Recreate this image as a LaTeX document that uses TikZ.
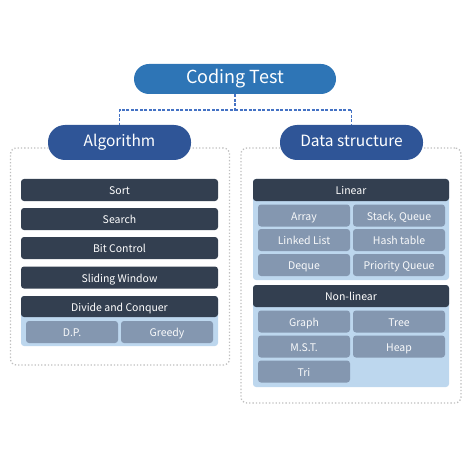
\documentclass[tikz,border=0pt]{standalone}
\usepackage{fontspec}
\setmainfont{Noto Sans CJK KR}
\usetikzlibrary{positioning}
\definecolor{topblue}{HTML}{2E75B6}
\definecolor{pillblue}{HTML}{2F5597}
\definecolor{darkitem}{HTML}{333F50}
\definecolor{lightbox}{HTML}{BDD7EE}
\definecolor{subitem}{HTML}{8497B0}
\definecolor{dotgrey}{HTML}{BFBFBF}
\definecolor{dashblue}{HTML}{4472C4}
\tikzset{
  every node/.style={text height=0.9em, text depth=0pt},
  pill/.style={fill=#1, text=white, rounded corners=17pt, inner sep=0pt,
    minimum height=35pt, minimum width=143pt, font=\fontsize{15.5}{18}\selectfont},
  darkbox/.style={fill=darkitem, text=white, rounded corners=3pt, inner sep=0pt,
    minimum height=22pt, font=\fontsize{10.5}{12}\selectfont},
  subbox/.style={fill=subitem, text=white!95!subitem, rounded corners=3pt, inner sep=0pt,
    minimum height=22pt, minimum width=92pt, font=\fontsize{10.5}{12}\selectfont},
  container/.style={fill=lightbox, rounded corners=3pt, inner sep=0pt},
  outerbox/.style={draw=dotgrey, line width=1.3pt, dotted, rounded corners=6pt, inner sep=0pt},
  link/.style={draw=dashblue, line width=1.2pt, dash pattern=on 3pt off 1.5pt},
}
\begin{document}
\begin{tikzpicture}[x=1pt,y=-1pt]
\useasboundingbox (0,0) rectangle (470,470);
% outer dotted frames
\node[outerbox, minimum width=219pt, minimum height=217pt] (algframe) at (120,256.5) {};
\node[outerbox, minimum width=220pt, minimum height=255pt] (dsframe) at (351,275.5) {};
% top and category pills
\node[pill=topblue, minimum width=202pt, minimum height=30pt, rounded corners=15pt,
  font=\fontsize{18}{21}\selectfont] (ct) at (235,79) {Coding Test};
\node[pill=pillblue] (alg) at (119.5,142.5) {Algorithm};
\node[pill=pillblue] (ds) at (351.5,142.5) {Data structure};
\coordinate (split) at (235,110);
\draw[link] (ct.south) -- (split) -| (alg.north);
\draw[link] (split) -| (ds.north);
% algorithm items
\node[darkbox, minimum width=197pt] (sort) at (119.5,190) {Sort};
\node[darkbox, minimum width=197pt] (search) at (119.5,219) {Search};
\node[darkbox, minimum width=197pt] (bit) at (119.5,248) {Bit Control};
\node[darkbox, minimum width=197pt] (slide) at (119.5,277.5) {Sliding Window};
\node[container, minimum width=197pt, minimum height=50pt] (dcbox) at (119.5,321) {};
\node[darkbox, minimum width=197pt, minimum height=21pt] (dc) at (119.5,306.5) {Divide and Conquer};
\node[subbox] (dp) at (72,332) {D.P.};
\node[subbox] (greedy) at (167,332) {Greedy};
% linear
\node[container, minimum width=196pt, minimum height=101pt] (linbox) at (351,229.5) {};
\node[darkbox, minimum width=196pt] (lin) at (351,190) {Linear};
\node[subbox] (array) at (304,215.5) {Array};
\node[subbox] (stack) at (399,215.5) {Stack, Queue};
\node[subbox] (linked) at (304,240) {Linked List};
\node[subbox] (hash) at (399,240) {Hash table};
\node[subbox] (deque) at (304,265) {Deque};
\node[subbox] (prio) at (399,265) {Priority Queue};
% non-linear
\node[container, minimum width=196pt, minimum height=102pt] (nlbox) at (351,336) {};
\node[darkbox, minimum width=196pt] (nl) at (351,296) {Non-linear};
\node[subbox] (graph) at (304,321.5) {Graph};
\node[subbox] (tree) at (399,321.5) {Tree};
\node[subbox] (mst) at (304,346.5) {M.S.T.};
\node[subbox] (heap) at (399,346.5) {Heap};
\node[subbox] (tri) at (304,371.5) {Tri};
\end{tikzpicture}
\end{document}
